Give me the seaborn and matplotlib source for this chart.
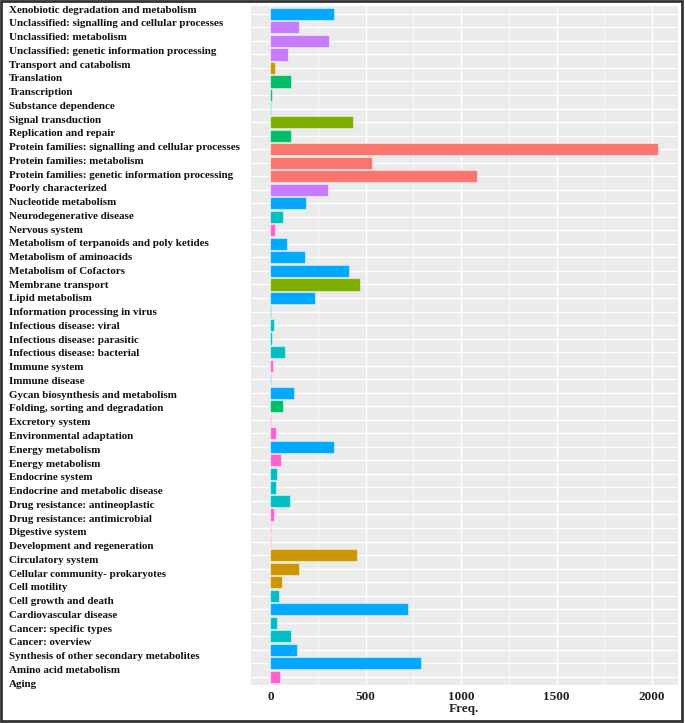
import numpy as np
import pandas as pd
import matplotlib.pyplot as plt
import seaborn as sns
from matplotlib.patches import Rectangle

# categorias (de arriba a abajo), frecuencias y grupo de cada barra
terms = [
    "Xenobiotic degradation and metabolism",
    "Unclassified: signalling and cellular processes",
    "Unclassified: metabolism",
    "Unclassified: genetic information processing",
    "Transport and catabolism",
    "Translation",
    "Transcription",
    "Substance dependence",
    "Signal transduction",
    "Replication and repair",
    "Protein families: signalling and cellular processes",
    "Protein families: metabolism",
    "Protein families: genetic information processing",
    "Poorly characterized",
    "Nucleotide metabolism",
    "Neurodegenerative disease",
    "Nervous system",
    "Metabolism of terpanoids and poly ketides",
    "Metabolism of aminoacids",
    "Metabolism of Cofactors",
    "Membrane transport",
    "Lipid metabolism",
    "Information processing in virus",
    "Infectious disease: viral",
    "Infectious disease: parasitic",
    "Infectious disease: bacterial",
    "Immune system",
    "Immune disease",
    "Gycan biosynthesis and metabolism",
    "Folding, sorting and degradation",
    "Excretory system",
    "Environmental adaptation",
    "Energy metabolism",
    "Energy metabolism ",
    "Endocrine system",
    "Endocrine and metabolic disease",
    "Drug resistance: antineoplastic",
    "Drug resistance: antimicrobial",
    "Digestive system",
    "Development and regeneration",
    "Circulatory system",
    "Cellular community- prokaryotes",
    "Cell motility",
    "Cell growth and death",
    "Cardiovascular disease",
    "Cancer: specific types",
    "Cancer: overview",
    "Synthesis of other secondary metabolites",
    "Amino acid metabolism",
    "Aging",
]

freq = [332, 152, 307, 94, 26, 107, 10, 3, 431, 107,
        2033, 534, 1084, 302, 185, 68, 25, 86, 180, 414,
        470, 236, 2, 21, 9, 75, 16, 3, 121, 68,
        2, 28, 332, 56, 35, 28, 100, 18, 2, 3,
        452, 150, 60, 47, 719, 35, 110, 141, 789, 51]

groups = ["Met", "Uncl", "Uncl", "Uncl", "Cell", "Gen", "Gen", "Hum", "Env", "Gen",
          "Prot", "Prot", "Prot", "Uncl", "Met", "Hum", "Org", "Met", "Met", "Met",
          "Env", "Met", "Gen", "Hum", "Hum", "Hum", "Org", "Hum", "Met", "Gen",
          "Org", "Org", "Met", "Org", "Hum", "Hum", "Hum", "Org", "Org", "Org",
          "Cell", "Cell", "Cell", "Hum", "Met", "Hum", "Hum", "Met", "Met", "Org"]

# paleta tipo ggplot (8 niveles)
palette = {"Prot": "#F8766D", "Cell": "#CD9600", "Env": "#7CAE00", "Gen": "#00BE67",
           "Hum": "#00BFC4", "Met": "#00A9FF", "Uncl": "#C77CFF", "Org": "#FF61CC"}

df = pd.DataFrame({"term": terms, "freq": freq, "group": groups})

sns.set_theme(style="darkgrid", rc={"axes.facecolor": "#EBEBEB", "grid.color": "white"})
plt.rcParams['font.family'] = ['Liberation Serif', 'DejaVu Serif']

fig = plt.figure(figsize=(6.85, 7.23), dpi=100)
ax = fig.add_axes([0.3664, 0.0526, 0.6229, 0.9395])

sns.barplot(data=df, x="freq", y="term", hue="group", palette=palette, order=terms,
            dodge=False, legend=False, width=0.9, saturation=1,
            edgecolor="#ffffff77", linewidth=0.8, ax=ax, zorder=3)

ax.set_xlim(-102, 2135)
ax.set_ylim(len(terms) - 0.4, -0.6)
ax.set_xticks([0, 500, 1000, 1500, 2000])
ax.set_xticks([250, 750, 1250, 1750], minor=True)
ax.grid(which="major", color="white", lw=1.0, zorder=0)
ax.grid(which="minor", axis="x", color="white", lw=0.5, zorder=0)
ax.set_axisbelow(True)
for s in ax.spines.values():
    s.set_visible(False)

ax.tick_params(axis="y", length=2, width=0.8, color="#333333", labelleft=False)
ax.tick_params(axis="x", length=0, pad=4, labelsize=9.5, labelcolor="#222222")
for lab in ax.get_xticklabels():
    lab.set_fontweight("bold")
ax.set_ylabel("")
ax.set_xlabel("Freq.", fontsize=9.5, fontweight="bold", labelpad=0)

# etiquetas del eje y en un eje aparte (algo desplazadas respecto a las barras, como en el original)
lab_ax = fig.add_axes([0.3664, 0.0438, 0.001, 0.955])
lab_ax.set_ylim(len(terms) - 0.4, -0.6)
lab_ax.set_yticks(range(len(terms)))
lab_ax.set_yticklabels(terms)
lab_ax.set_xticks([])
lab_ax.set_facecolor("none")
for s in lab_ax.spines.values():
    s.set_visible(False)
lab_ax.grid(False)
lab_ax.tick_params(axis="y", length=0, pad=174, labelsize=7.95)
for lab in lab_ax.get_yticklabels():
    lab.set_ha("left")
    lab.set_fontweight("bold")
    lab.set_color("#111111")

# marco exterior
fig.patches.append(Rectangle((0.002, 0.003), 0.994, 0.995, transform=fig.transFigure,
                             fill=False, edgecolor="#333333", lw=2))

fig.savefig("out.png", dpi=100)
